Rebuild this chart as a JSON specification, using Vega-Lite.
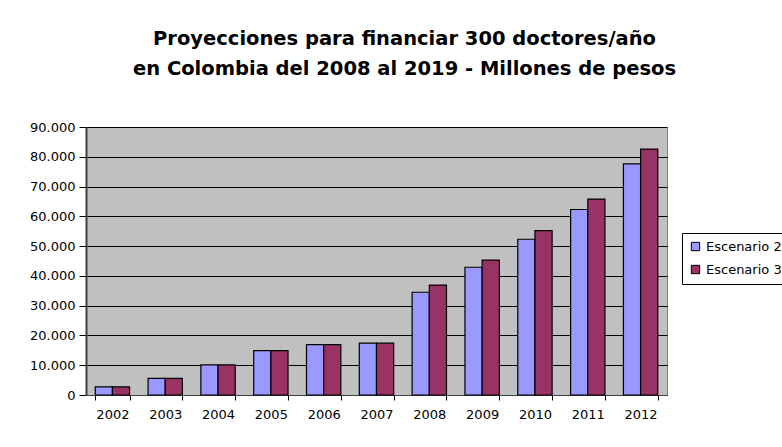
{
  "$schema": "https://vega.github.io/schema/vega-lite/v6.json",
  "width": 581,
  "height": 268,
  "autosize": {"type": "none"},
  "padding": {"left": 86, "top": 127, "right": 115, "bottom": 52},
  "background": "white",
  "config": {
    "locale": {"number": {"decimal": ",", "thousands": ".", "grouping": [3], "currency": ["$", ""]}},
    "font": "DejaVu Sans",
    "view": {"fill": "#C0C0C0", "stroke": "#808080", "strokeWidth": 1}
  },
  "title": {
    "text": ["Proyecciones para financiar 300 doctores/año", "en Colombia del 2008 al 2019 - Millones de pesos"],
    "font": "DejaVu Sans",
    "fontSize": 19.5,
    "fontWeight": "bold",
    "color": "black",
    "anchor": "middle",
    "dx": 28,
    "offset": 42,
    "lineHeight": 30
  },
  "data": {
    "values": [
      {"year": "2002", "serie": "Escenario 2", "valor": 2700},
      {"year": "2002", "serie": "Escenario 3", "valor": 2700},
      {"year": "2003", "serie": "Escenario 2", "valor": 5600},
      {"year": "2003", "serie": "Escenario 3", "valor": 5600},
      {"year": "2004", "serie": "Escenario 2", "valor": 10100},
      {"year": "2004", "serie": "Escenario 3", "valor": 10100},
      {"year": "2005", "serie": "Escenario 2", "valor": 14900},
      {"year": "2005", "serie": "Escenario 3", "valor": 14900},
      {"year": "2006", "serie": "Escenario 2", "valor": 16900},
      {"year": "2006", "serie": "Escenario 3", "valor": 16900},
      {"year": "2007", "serie": "Escenario 2", "valor": 17400},
      {"year": "2007", "serie": "Escenario 3", "valor": 17400},
      {"year": "2008", "serie": "Escenario 2", "valor": 34500},
      {"year": "2008", "serie": "Escenario 3", "valor": 36900},
      {"year": "2009", "serie": "Escenario 2", "valor": 42900},
      {"year": "2009", "serie": "Escenario 3", "valor": 45300},
      {"year": "2010", "serie": "Escenario 2", "valor": 52300},
      {"year": "2010", "serie": "Escenario 3", "valor": 55200},
      {"year": "2011", "serie": "Escenario 2", "valor": 62300},
      {"year": "2011", "serie": "Escenario 3", "valor": 65800},
      {"year": "2012", "serie": "Escenario 2", "valor": 77600},
      {"year": "2012", "serie": "Escenario 3", "valor": 82600}
    ]
  },
  "mark": {"type": "bar", "stroke": "black", "strokeWidth": 1.2},
  "encoding": {
    "x": {
      "field": "year",
      "type": "nominal",
      "scale": {"paddingInner": 0.35, "paddingOuter": 0.175},
      "axis": {
        "title": null,
        "labelAngle": 0,
        "labelFont": "DejaVu Sans",
        "labelFontSize": 13,
        "labelColor": "black",
        "labelPadding": 8,
        "tickBand": "extent",
        "tickColor": "black",
        "tickSize": 5,
        "domainColor": "#404040",
        "grid": false
      }
    },
    "xOffset": {"field": "serie", "type": "nominal", "scale": {"paddingInner": 0, "paddingOuter": 0}},
    "y": {
      "field": "valor",
      "type": "quantitative",
      "scale": {"domain": [0, 90000], "nice": false},
      "axis": {
        "title": null,
        "values": [0, 10000, 20000, 30000, 40000, 50000, 60000, 70000, 80000, 90000],
        "format": ",d",
        "labelFont": "DejaVu Sans",
        "labelFontSize": 13,
        "labelColor": "black",
        "labelPadding": 4,
        "tickColor": "black",
        "tickSize": 7,
        "domainColor": "#404040",
        "domainWidth": 2,
        "gridColor": "black",
        "gridOpacity": 1,
        "gridWidth": 1
      }
    },
    "color": {
      "field": "serie",
      "type": "nominal",
      "scale": {"domain": ["Escenario 2", "Escenario 3"], "range": ["#9999FF", "#993366"]},
      "legend": {
        "title": null,
        "orient": "none",
        "legendX": 596,
        "legendY": 106,
        "symbolType": "square",
        "symbolSize": 70,
        "symbolStrokeColor": "black",
        "symbolStrokeWidth": 1,
        "labelFont": "DejaVu Sans",
        "labelFontSize": 13,
        "labelColor": "black",
        "strokeColor": "black",
        "fillColor": "white",
        "padding": 7,
        "rowPadding": 9,
        "labelOffset": 4
      }
    }
  }
}
